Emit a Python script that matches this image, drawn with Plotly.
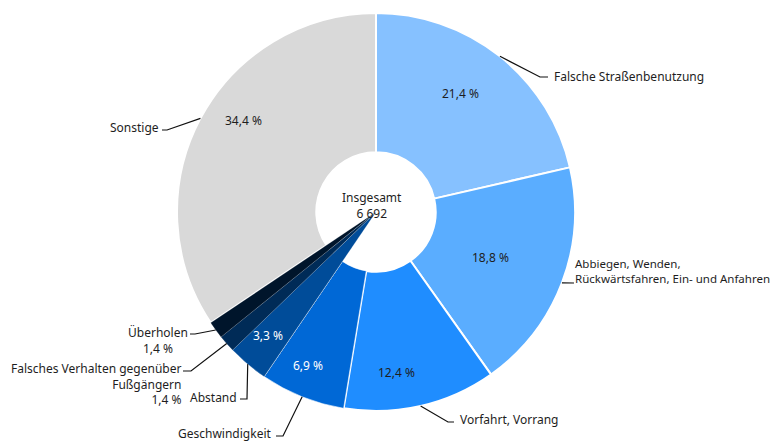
import numpy as np
import plotly.graph_objects as go

# data
labels = ["Falsche Straßenbenutzung",
          "Abbiegen, Wenden, Rückwärtsfahren, Ein- und Anfahren",
          "Vorfahrt, Vorrang", "Geschwindigkeit", "Abstand",
          "Falsches Verhalten gegenüber Fußgängern", "Überholen", "Sonstige"]
shares = [21.4, 18.8, 12.4, 6.9, 3.3, 1.4, 1.4, 34.4]
colors = ["#86C1FF", "#5AADFF", "#1F8DFF", "#0068D6", "#004C99",
          "#002B57", "#00152B", "#D9D9D9"]
pct_text = ["21,4 %", "18,8 %", "12,4 %", "6,9 %", "3,3 %", "", "", "34,4 %"]
total_label = "Insgesamt<br>6 692"

W, H = 776, 441
cx, cy, R = 376, 212, 199
FONT = "Noto Sans"
TXT = "#1e1e1e"


def px(x):
    return x / W


def py(y):
    return 1 - y / H


dom = dict(x=[px(cx - R), px(cx + R)], y=[py(cy + R), py(cy - R)])

fig = go.Figure()
fig.add_trace(go.Pie(
    labels=labels, values=shares, sort=False, direction="clockwise",
    rotation=0, hole=0.3, domain=dom, textinfo="none", hoverinfo="skip",
    marker=dict(colors=colors,
                line=dict(color="white", width=[2, 2, 2, 0.6, 0.6, 0.3, 0.3, 2])),
    showlegend=False))

# small dark slices run into the centre in the original
overlay = [c if i in (4, 5, 6) else "rgba(0,0,0,0)" for i, c in enumerate(colors)]
overlay_line = ["rgba(255,255,255,0.6)" if i in (4, 5, 6) else "rgba(0,0,0,0)"
                for i in range(len(colors))]
fig.add_trace(go.Pie(
    labels=labels, values=shares, sort=False, direction="clockwise",
    rotation=0, hole=0, domain=dom, textinfo="none", hoverinfo="skip",
    marker=dict(colors=overlay, line=dict(color=overlay_line, width=0.3)),
    showlegend=False))

# leader line start at each slice's mid angle on the outer edge
vals = np.array(shares)
mid = (np.cumsum(vals) - vals / 2) / vals.sum() * 2 * np.pi
sx = cx + R * np.sin(mid)
sy = cy - R * np.cos(mid)

# outside labels: (slice index, elbow points, text, anchor pos, xanchor, align, size)
outside = [
    (0, [(540, 77), (548, 77)], "Falsche Straßenbenutzung", (552, 76), "left", "left", 12),
    (1, [(574, 283)], "Abbiegen, Wenden,<br>Rückwärtsfahren, Ein- und Anfahren",
     (573, 271), "left", "left", 11.5),
    (2, [(448, 422), (454, 422)], "Vorfahrt, Vorrang", (458, 419), "left", "left", 12),
    (3, [(283, 436), (276, 436)], "Geschwindigkeit", (274, 433), "right", "right", 12),
    (4, [(247, 399), (240, 399)], "Abstand", (239, 397), "right", "right", 12),
    (5, [(191, 371), (183, 371)], "Falsches Verhalten gegenüber<br>Fußgängern<br>1,4 %",
     (183, 384), "right", "right", 12),
    (6, [(195, 334), (190, 334)], "Überholen<br>1,4 %", (190, 340), "right", "center", 12),
    (7, [(167, 130), (162, 130)], "Sonstige", (161, 128), "right", "right", 12),
]

shapes = []
annotations = []
for i, pts, text, (ax, ay), xa, al, fs in outside:
    path = f"M {px(sx[i])} {py(sy[i])}"
    for x, y in pts:
        path += f" L {px(x)} {py(y)}"
    shapes.append(dict(type="path", xref="paper", yref="paper", path=path,
                       line=dict(color="#111111", width=1.2)))
    annotations.append(dict(x=px(ax), y=py(ay), xref="paper", yref="paper",
                            text=text, showarrow=False, xanchor=xa, yanchor="middle",
                            align=al, font=dict(family=FONT, size=fs, color=TXT)))

# percent labels inside slices
pct_pos = [(460, 93), (490, 257), (397, 372), (308, 365), (268, 335), None, None, (243, 120)]
for i, t in enumerate(pct_text):
    if not t:
        continue
    x, y = pct_pos[i]
    col = "white" if i in (3, 4) else TXT
    annotations.append(dict(x=px(x), y=py(y), xref="paper", yref="paper", text=t,
                            showarrow=False, xanchor="center", yanchor="middle",
                            font=dict(family=FONT, size=12, color=col)))

annotations.append(dict(x=px(372), y=py(205), xref="paper", yref="paper",
                        text=total_label, showarrow=False,
                        xanchor="center", yanchor="middle",
                        font=dict(family=FONT, size=12, color=TXT)))

fig.update_layout(width=W, height=H, margin=dict(l=0, r=0, t=0, b=0),
                  paper_bgcolor="white", plot_bgcolor="white",
                  shapes=shapes, annotations=annotations)

# drop the default page margin so the figure sits at the window corner
fig.write_html("out.html", config={"displayModeBar": False},
               post_script="document.body.style.margin='0';")
